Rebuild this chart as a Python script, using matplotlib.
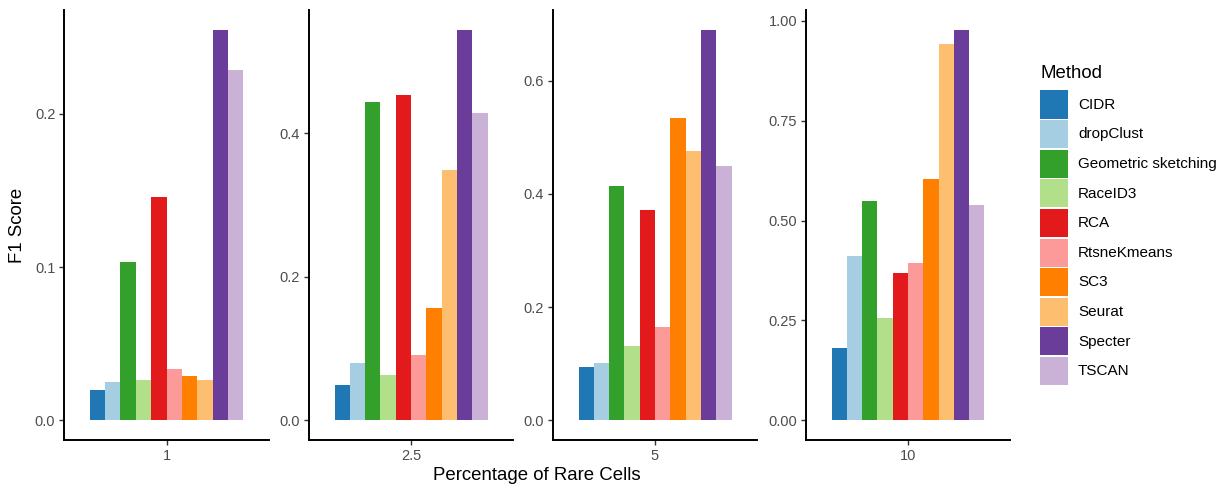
import matplotlib
matplotlib.use("Agg")
import matplotlib.pyplot as plt
from matplotlib.patches import Rectangle

plt.rcParams['font.family'] = ['Liberation Sans', 'DejaVu Sans']

methods = ["CIDR", "dropClust", "Geometric sketching", "RaceID3", "RCA",
           "RtsneKmeans", "SC3", "Seurat", "Specter", "TSCAN"]
colors = ["#1F78B4", "#A6CEE3", "#33A02C", "#B2DF8A", "#E31A1C",
          "#FB9A99", "#FF7F00", "#FDBF6F", "#6A3D9A", "#CAB2D6"]
percentages = ["1", "2.5", "5", "10"]

f1_1 = [0.0196, 0.0248, 0.1037, 0.0261, 0.1461, 0.0339, 0.0287, 0.0267, 0.2551, 0.2290]
f1_2_5 = [0.0487, 0.0793, 0.4440, 0.0626, 0.4537, 0.0905, 0.1559, 0.3480, 0.5442, 0.4287]
f1_5 = [0.0935, 0.1006, 0.4147, 0.1323, 0.3723, 0.1641, 0.5330, 0.4765, 0.6900, 0.4500]
f1_10 = [0.1800, 0.4100, 0.5500, 0.2550, 0.3675, 0.3925, 0.6050, 0.9425, 0.9775, 0.5400]
values = [f1_1, f1_2_5, f1_5, f1_10]

yticks = [[0.0, 0.1, 0.2], [0.0, 0.2, 0.4], [0.0, 0.2, 0.4, 0.6],
          [0.0, 0.25, 0.5, 0.75, 1.0]]
ytick_labels = [["0.0", "0.1", "0.2"], ["0.0", "0.2", "0.4"],
                ["0.0", "0.2", "0.4", "0.6"],
                ["0.00", "0.25", "0.50", "0.75", "1.00"]]

W, H = 1223, 486
fig = plt.figure(figsize=(W / 100, H / 100), dpi=100)

panel_px = [(64, 269), (309, 513), (553, 757), (806, 1010)]
top_px, bot_px = 10, 440
tick_color = "#4D4D4D"
n = len(methods)
bw = 0.9 / n

for p, (x0, x1) in enumerate(panel_px):
    ax = fig.add_axes([x0 / W, 1 - bot_px / H, (x1 - x0) / W, (bot_px - top_px) / H])
    vals = values[p]
    xs = [1 + (i - (n - 1) / 2) * bw for i in range(n)]
    ax.bar(xs, vals, width=bw, color=colors, linewidth=0)
    vmax = max(vals)
    ax.set_ylim(-0.05 * vmax, 1.05 * vmax)
    ax.set_xlim(0.4, 1.6)
    ax.set_xticks([1])
    ax.set_xticklabels([percentages[p]])
    ax.set_yticks(yticks[p])
    ax.set_yticklabels(ytick_labels[p])
    for s in ["top", "right"]:
        ax.spines[s].set_visible(False)
    for s in ["left", "bottom"]:
        ax.spines[s].set_linewidth(1.4)
        ax.spines[s].set_color("black")
    ax.tick_params(axis="both", length=3.3, width=1.0, color="#333333",
                   labelcolor=tick_color, labelsize=10.5, pad=3)
    ax.set_facecolor("white")

fig.text(17 / W, 1 - 225 / H, "F1 Score", rotation=90, ha="center", va="center",
         fontsize=13.4, color="black")
fig.text(537 / W, 1 - 475 / H, "Percentage of Rare Cells", ha="center", va="center",
         fontsize=13.4, color="black")

# legend
fig.text(1040 / W, 1 - 73 / H, "Method", ha="left", va="center", fontsize=13.4)
key_top = 90
key_h = 29.6
for i, (m, c) in enumerate(zip(methods, colors)):
    yt = key_top + i * key_h
    fig.add_artist(Rectangle((1040 / W, 1 - (yt + key_h - 1) / H), 28 / W, (key_h - 1.5) / H,
                             transform=fig.transFigure, facecolor=c, edgecolor="none"))
    fig.text(1078 / W, 1 - (yt + key_h / 2) / H, m, ha="left", va="center", fontsize=11)

fig.savefig("out.png", dpi=100, facecolor="white")
